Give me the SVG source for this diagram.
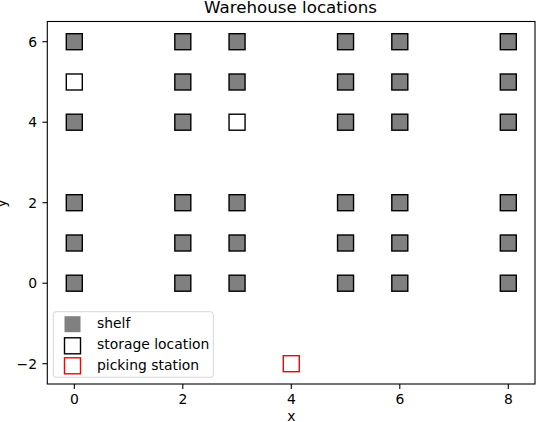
<svg xmlns="http://www.w3.org/2000/svg" width="536" height="422" viewBox="0 0 536 422">
<style>
text{font-family:"DejaVu Sans","Liberation Sans",sans-serif;fill:#000}
.tick{font-size:13.9px}
.title{font-size:16.7px}
.shelf{fill:#808080;stroke:#000;stroke-width:1.4}
.storage{fill:#fff;stroke:#000;stroke-width:1.4}
.picking{fill:#fff;stroke:#f00;stroke-width:1.4}
.axis{stroke:#000;stroke-width:1.1;fill:none}
</style>
<defs>
<rect id="m" x="-8" y="-8" width="16" height="16"/>
</defs>
<rect width="536" height="422" fill="#fff"/>
<text class="title" x="290.5" y="13" text-anchor="middle">Warehouse locations</text>
<g id="axes">
<rect class="axis" x="47.3" y="21.5" width="487.7" height="362.5"/>
<g stroke="#000" stroke-width="1.1">
<line x1="74.3" y1="384" x2="74.3" y2="388.9"/>
<line x1="182.8" y1="384" x2="182.8" y2="388.9"/>
<line x1="291.3" y1="384" x2="291.3" y2="388.9"/>
<line x1="399.8" y1="384" x2="399.8" y2="388.9"/>
<line x1="508.3" y1="384" x2="508.3" y2="388.9"/>
<line x1="42.4" y1="363.7" x2="47.3" y2="363.7"/>
<line x1="42.4" y1="283.2" x2="47.3" y2="283.2"/>
<line x1="42.4" y1="202.7" x2="47.3" y2="202.7"/>
<line x1="42.4" y1="122.2" x2="47.3" y2="122.2"/>
<line x1="42.4" y1="41.7" x2="47.3" y2="41.7"/>
</g>
<g class="tick" text-anchor="middle">
<text x="74.3" y="403.5">0</text>
<text x="182.8" y="403.5">2</text>
<text x="291.3" y="403.5">4</text>
<text x="399.8" y="403.5">6</text>
<text x="508.3" y="403.5">8</text>
</g>
<g class="tick" text-anchor="end">
<text x="37" y="368.7">−2</text>
<text x="37" y="288.2">0</text>
<text x="37" y="207.7">2</text>
<text x="37" y="127.2">4</text>
<text x="37" y="46.7">6</text>
</g>
<text class="tick" x="291.3" y="421" text-anchor="middle">x</text>
<text class="tick" transform="translate(5.5,203.5) rotate(-90)" text-anchor="middle">y</text>
</g>
<g id="shelves" class="shelf">
<use href="#m" x="74.3" y="41.7"/><use href="#m" x="182.8" y="41.7"/><use href="#m" x="237.05" y="41.7"/><use href="#m" x="345.55" y="41.7"/><use href="#m" x="399.8" y="41.7"/><use href="#m" x="508.3" y="41.7"/>
<use href="#m" x="182.8" y="82"/><use href="#m" x="237.05" y="82"/><use href="#m" x="345.55" y="82"/><use href="#m" x="399.8" y="82"/><use href="#m" x="508.3" y="82"/>
<use href="#m" x="74.3" y="122.2"/><use href="#m" x="182.8" y="122.2"/><use href="#m" x="345.55" y="122.2"/><use href="#m" x="399.8" y="122.2"/><use href="#m" x="508.3" y="122.2"/>
<use href="#m" x="74.3" y="202.7"/><use href="#m" x="182.8" y="202.7"/><use href="#m" x="237.05" y="202.7"/><use href="#m" x="345.55" y="202.7"/><use href="#m" x="399.8" y="202.7"/><use href="#m" x="508.3" y="202.7"/>
<use href="#m" x="74.3" y="243"/><use href="#m" x="182.8" y="243"/><use href="#m" x="237.05" y="243"/><use href="#m" x="345.55" y="243"/><use href="#m" x="399.8" y="243"/><use href="#m" x="508.3" y="243"/>
<use href="#m" x="74.3" y="283.2"/><use href="#m" x="182.8" y="283.2"/><use href="#m" x="237.05" y="283.2"/><use href="#m" x="345.55" y="283.2"/><use href="#m" x="399.8" y="283.2"/><use href="#m" x="508.3" y="283.2"/>
</g>
<g id="storage" class="storage">
<use href="#m" x="74.3" y="82"/>
<use href="#m" x="237.05" y="122.2"/>
</g>
<g id="picking" class="picking">
<use href="#m" x="291.3" y="363.7"/>
</g>
<g id="legend">
<rect x="53.3" y="311.7" width="160" height="65.6" rx="2.8" fill="#fff" fill-opacity="0.8" stroke="#ccc" stroke-opacity="0.8" stroke-width="1"/>
<rect x="64.5" y="316.2" width="16" height="16" fill="#808080"/>
<rect class="storage" x="64.5" y="337.8" width="16" height="16"/>
<rect class="picking" x="64.5" y="357.8" width="16" height="16"/>
<g class="tick">
<text x="97" y="328.3">shelf</text>
<text x="97" y="349.1">storage location</text>
<text x="97" y="369.9">picking station</text>
</g>
</g>
</svg>
